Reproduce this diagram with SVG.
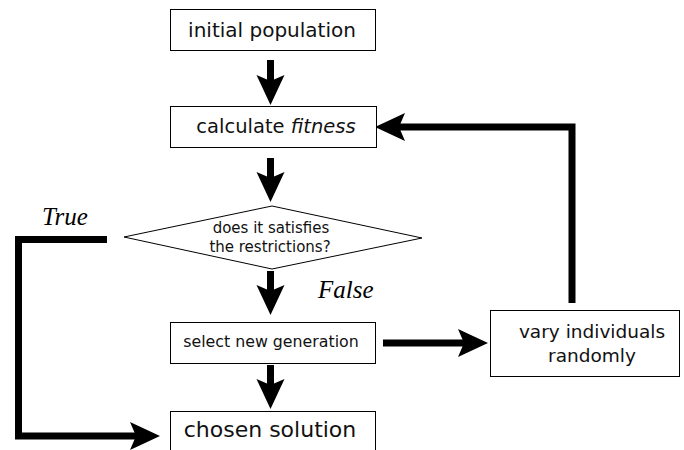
<svg xmlns="http://www.w3.org/2000/svg" width="684" height="450" viewBox="0 0 684 450">
<style>
.box{fill:#fff;stroke:#000;stroke-width:1}
.t{font-family:"DejaVu Sans",sans-serif;fill:#111;text-anchor:middle}
.lbl{font-family:"Liberation Serif",serif;font-style:italic;fill:#000}
.c{fill:none;stroke:#000;stroke-width:7;stroke-linejoin:miter}
</style>
<defs>
<marker id="ah" markerUnits="userSpaceOnUse" viewBox="-7 -15 32 30" refX="0" refY="0" markerWidth="32" markerHeight="30" orient="auto" overflow="visible">
<path d="M24,0 L-6,-14 L0,0 L-6,14 Z" fill="#000"/>
</marker>
</defs>
<rect width="684" height="450" fill="#fff"/>
<g id="connectors">
<line class="c" x1="270.5" y1="60" x2="270.5" y2="81" marker-end="url(#ah)"/>
<line class="c" x1="270.5" y1="158" x2="270.5" y2="178" marker-end="url(#ah)"/>
<line class="c" x1="270.5" y1="271" x2="270.5" y2="291" marker-end="url(#ah)"/>
<line class="c" x1="270.5" y1="365" x2="270.5" y2="385" marker-end="url(#ah)"/>
<line class="c" x1="383" y1="343" x2="464" y2="343" marker-end="url(#ah)"/>
<polyline class="c" points="572,303 572,127 399,127" marker-end="url(#ah)"/>
<polyline class="c" points="107,239.5 18.5,239.5 18.5,436 136,436" marker-end="url(#ah)"/>
</g>
<g id="n-initial">
<rect class="box" x="170.5" y="9.5" width="205" height="41"/>
<text class="t" x="272" y="37" font-size="20">initial population</text>
</g>
<g id="n-fitness">
<rect class="box" x="170.5" y="106.5" width="206" height="41"/>
<text class="t" x="276" y="133" font-size="19.5">calculate <tspan font-style="italic">fitness</tspan></text>
</g>
<g id="n-decision">
<polygon points="272,206 422,238 272,269 124,237" fill="#fff" stroke="#000" stroke-width="1"/>
<text class="t" x="271" y="233" font-size="15" fill="#333">does it satisfies</text>
<text class="t" x="270" y="252" font-size="15" fill="#333">the restrictions?</text>
</g>
<g id="n-select">
<rect class="box" x="170.5" y="322.5" width="205" height="41"/>
<text class="t" x="271" y="347" font-size="15.8">select new generation</text>
</g>
<g id="n-chosen">
<rect class="box" x="170.5" y="411.5" width="205" height="45"/>
<text class="t" x="270" y="437" font-size="22">chosen solution</text>
</g>
<g id="n-vary">
<rect class="box" x="490.5" y="310.5" width="189" height="66"/>
<text class="t" x="592" y="338" font-size="18.5">vary individuals</text>
<text class="t" x="592" y="362" font-size="18.5">randomly</text>
</g>
<text class="lbl" x="42" y="225" font-size="25">True</text>
<text class="lbl" x="318" y="298" font-size="25">False</text>
</svg>
